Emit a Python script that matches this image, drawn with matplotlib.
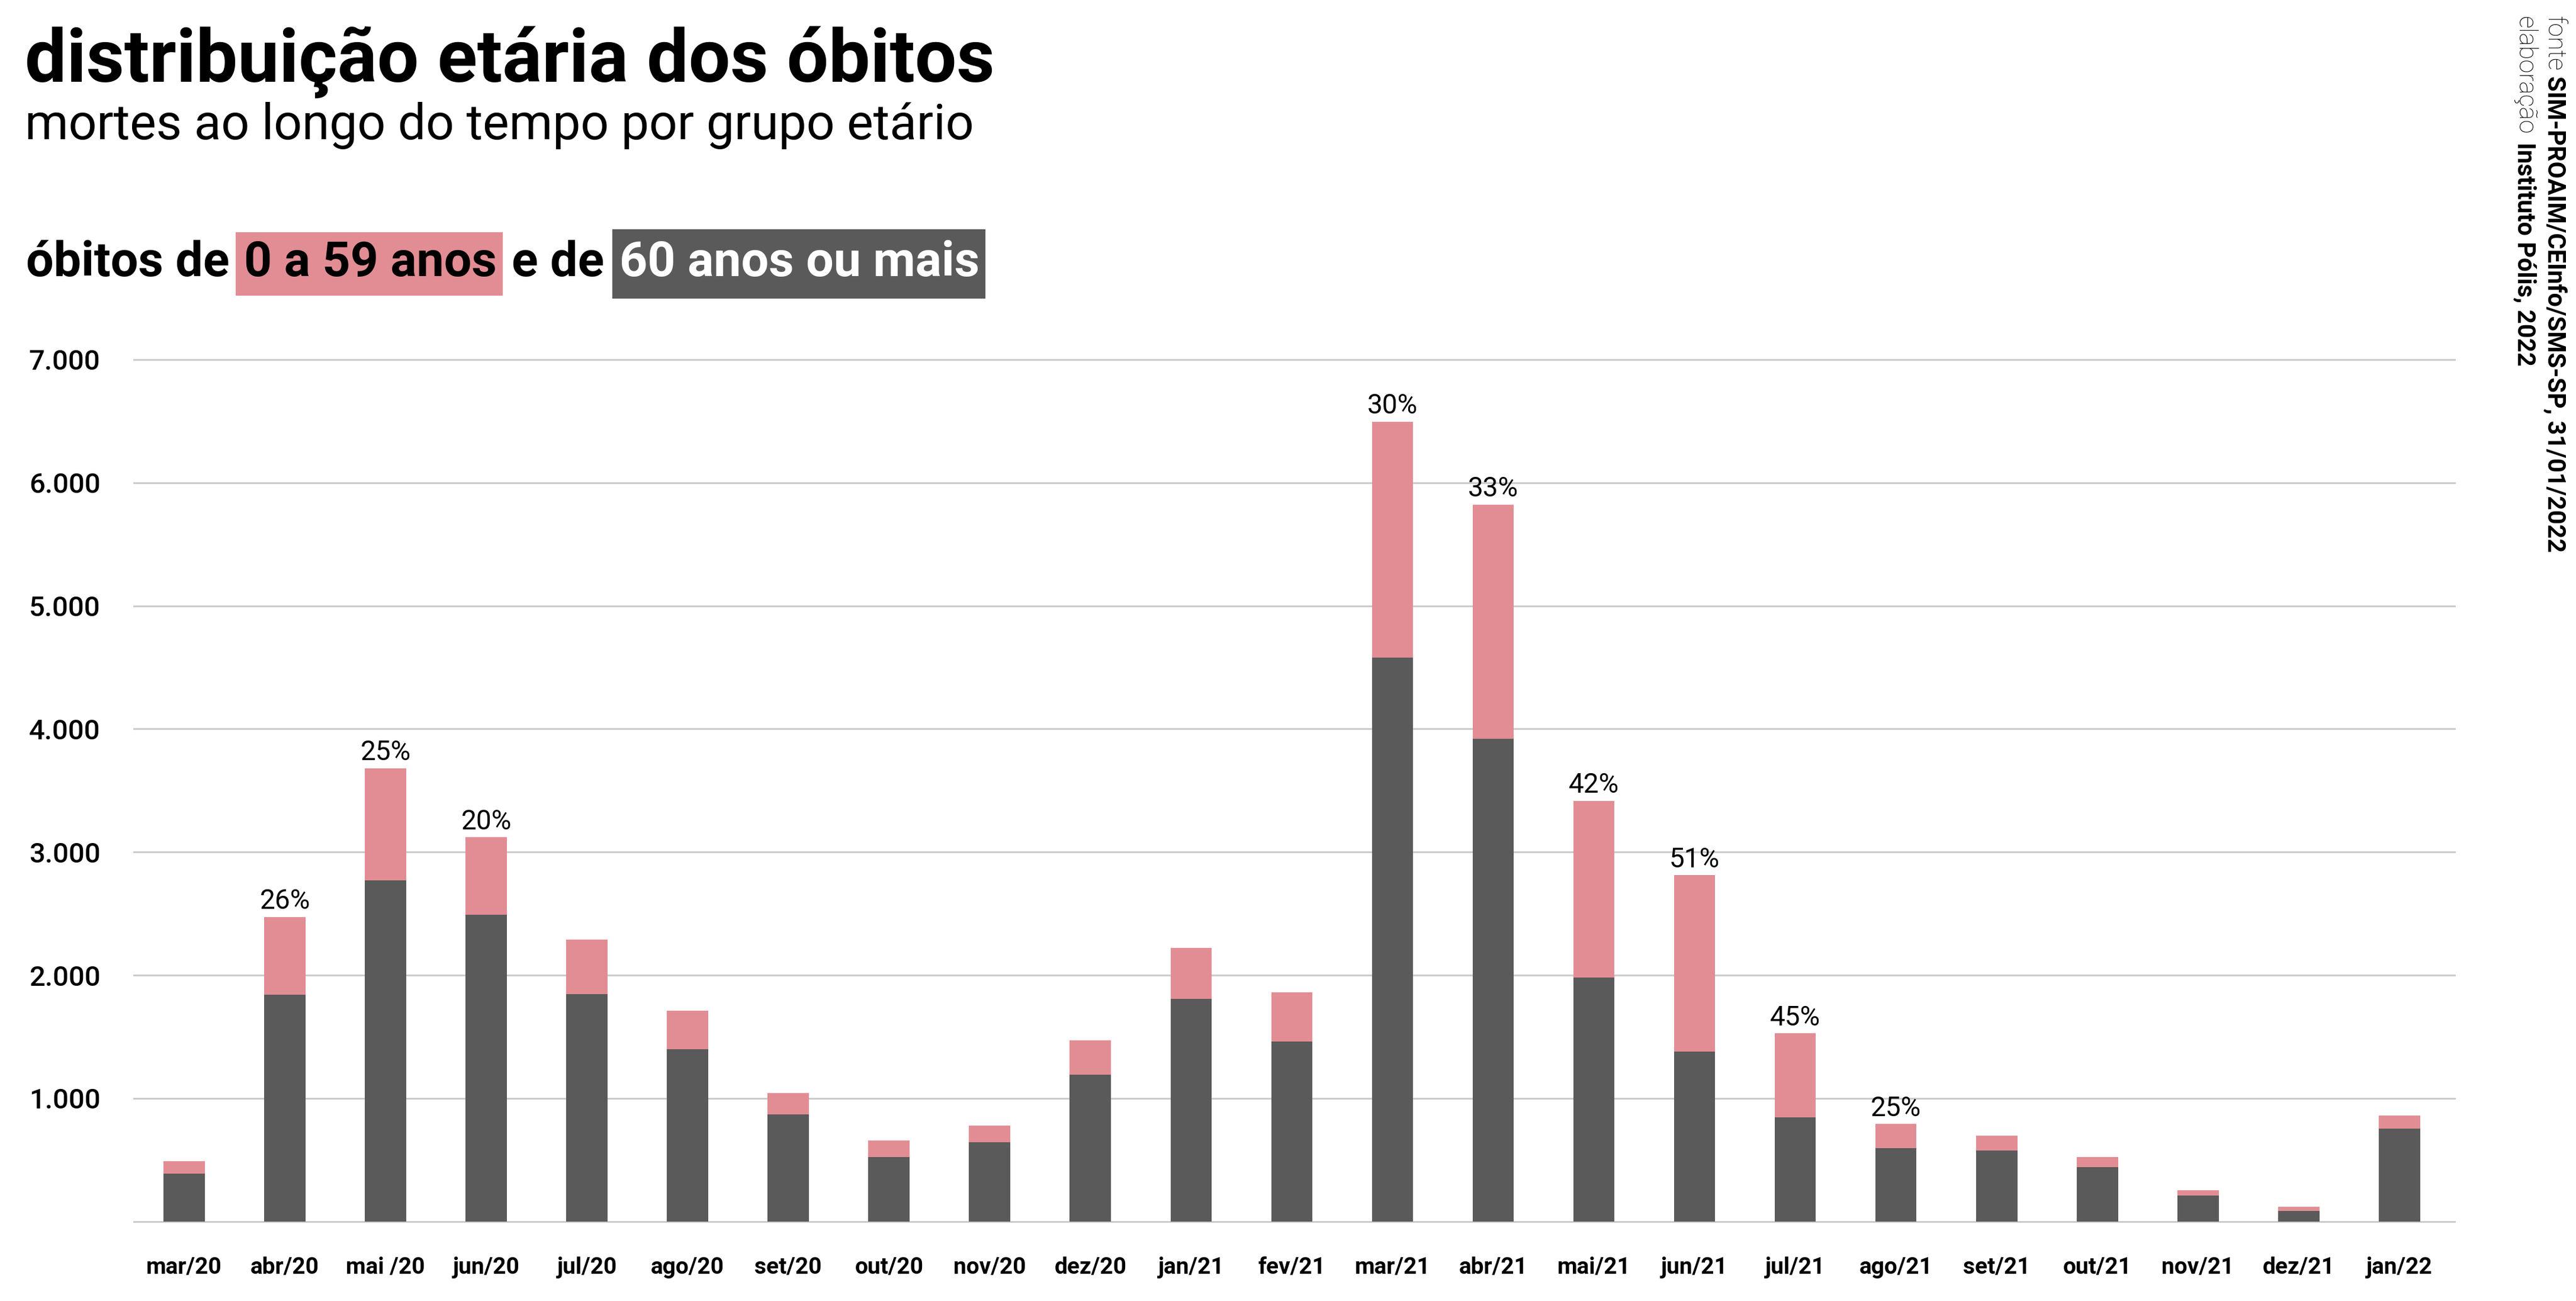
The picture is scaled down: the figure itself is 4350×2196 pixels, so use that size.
import matplotlib
matplotlib.use("Agg")
import matplotlib.pyplot as plt
from matplotlib.patches import Rectangle

W, H, DPI = 4350, 2196, 200

months = ["mar/20", "abr/20", "mai /20", "jun/20", "jul/20", "ago/20", "set/20",
          "out/20", "nov/20", "dez/20", "jan/21", "fev/21", "mar/21", "abr/21",
          "mai/21", "jun/21", "jul/21", "ago/21", "set/21", "out/21", "nov/21",
          "dez/21", "jan/22"]
# obitos 60 anos ou mais (barra escura)
old60 = [390, 1840, 2770, 2490, 1847, 1400, 870, 522, 643, 1191, 1807, 1459,
         4578, 3922, 1981, 1379, 843, 595, 576, 442, 212, 84, 756]
# obitos 0 a 59 anos (barra rosa)
young = [100, 632, 911, 629, 442, 313, 174, 134, 133, 282, 415, 402,
         1915, 1901, 1433, 1432, 683, 195, 120, 80, 41, 32, 105]
pct_labels = ["", "26%", "25%", "20%", "", "", "", "", "", "", "", "",
              "30%", "33%", "42%", "51%", "45%", "25%", "", "", "", "", ""]
yticks = [0, 1000, 2000, 3000, 4000, 5000, 6000, 7000]
ytick_labels = ["", "1.000", "2.000", "3.000", "4.000", "5.000", "6.000", "7.000"]

PINK = "#e28d94"
DARK = "#5a5a5a"
GRID = "#cccccc"

plt.rcParams["font.family"] = ["Roboto", "DejaVu Sans"]

fig = plt.figure(figsize=(W / DPI, H / DPI), dpi=DPI)
fig.patch.set_facecolor("white")

# eixo: y=0 em 2061.6px, 207.8px por 1000 obitos
y0_px, k = 2061.6, 0.2078
ylo, yhi = -30, 7050
top_px = y0_px - yhi * k
bot_px = y0_px - ylo * k
ax = fig.add_axes([225 / W, 1 - bot_px / H, (4147 - 225) / W, (bot_px - top_px) / H])

x = list(range(len(months)))
ax.bar(x, old60, width=0.41, color=DARK, zorder=2)
ax.bar(x, young, bottom=old60, width=0.41, color=PINK, zorder=2)

totals = [o + y for o, y in zip(old60, young)]
for i, (t, lab) in enumerate(zip(totals, pct_labels)):
    if lab:
        ax.annotate(lab, (i, t), xytext=(0, 5), textcoords="offset points",
                    ha="center", va="baseline", fontsize=16.5, color="black")

ax.set_xlim(-0.506, 22.56)
ax.set_ylim(ylo, yhi)
ax.set_yticks(yticks)
ax.set_yticklabels(ytick_labels, fontsize=17, fontweight="medium")
ax.set_xticks(x)
ax.set_xticklabels(months, fontsize=14, fontweight="bold")
ax.yaxis.grid(True, color=GRID, lw=1.1, zorder=0)
ax.set_axisbelow(True)
for s in ax.spines.values():
    s.set_visible(False)
ax.tick_params(axis="y", length=0, pad=20)
ax.tick_params(axis="x", length=0, pad=19)

renderer = fig.canvas.get_renderer()


def put(xpx, ypx, s, **kw):
    return fig.text(xpx / W, 1 - ypx / H, s, ha="left", va="baseline", **kw)


def wpx(t):
    return t.get_window_extent(renderer).width


def hpx(t):
    return t.get_window_extent(renderer).height


def box(x0, x1, ytop, ybot, color):
    fig.add_artist(Rectangle((x0 / W, 1 - ybot / H), (x1 - x0) / W, (ybot - ytop) / H,
                             transform=fig.transFigure, fc=color, ec="none", zorder=0))


# titulo e subtitulo
put(42, 138, "distribuição etária dos óbitos", fontsize=45, fontweight="bold")
put(42, 235, "mortes ao longo do tempo por grupo etário", fontsize=30.2)

# linha com destaques
GAP = 25
hx = 44
p = put(hx, 466, "óbitos de", fontsize=29.7, fontweight="bold")
hx += wpx(p) + GAP
p = put(hx, 466, "0 a 59 anos", fontsize=29.7, fontweight="bold", color="black", zorder=3)
box(hx - 15, hx + wpx(p) + 10, 392, 499, PINK)
hx += wpx(p) + GAP
p = put(hx, 466, "e de", fontsize=29.7, fontweight="bold")
hx += wpx(p) + GAP
p = put(hx, 466, "60 anos ou mais", fontsize=29.7, fontweight="bold", color="white", zorder=3)
box(hx - 12, hx + wpx(p) + 10, 387, 504, DARK)


# fonte na lateral direita, texto vertical
def vput(xpx, ypx, s, **kw):
    return fig.text(xpx / W, 1 - ypx / H, s, rotation=270, rotation_mode="anchor",
                    ha="left", va="baseline", **kw)


for base_x, light, bold, gap in [(4302, "fonte", "SIM-PROAIM/CEInfo/SMS-SP, 31/01/2022", 8),
                                 (4252, "elaboração", "Instituto Pólis, 2022", 14)]:
    t = vput(base_x, 27, light, fontsize=15, fontweight="light")
    vput(base_x, 27 + hpx(t) + gap, bold, fontsize=15, fontweight="bold")

fig.savefig("out.png", dpi=DPI, facecolor="white")
